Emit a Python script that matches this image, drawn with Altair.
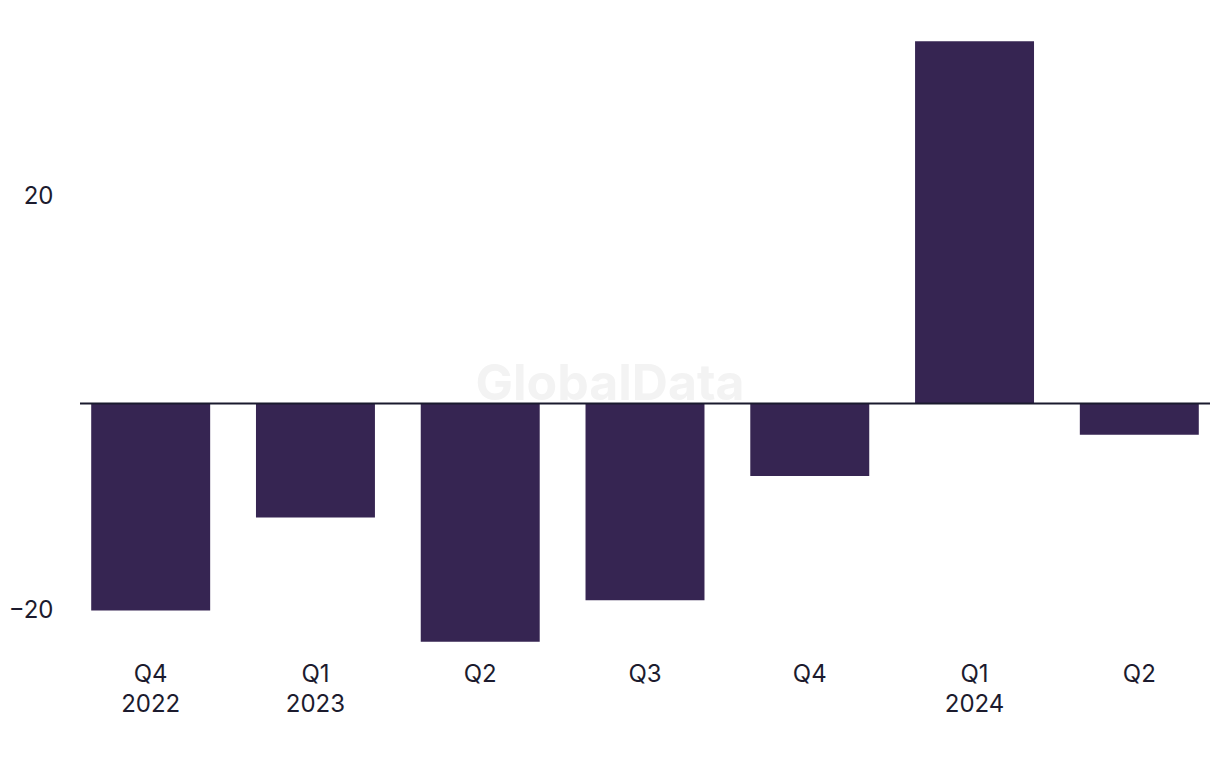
import altair as alt
import pandas as pd

keys = ["Q4 2022", "Q1 2023", "Q2 2023", "Q3 2023", "Q4 2023", "Q1 2024", "Q2 2024"]
quarters = ["Q4", "Q1", "Q2", "Q3", "Q4", "Q1", "Q2"]
years = ["2022", "2023", "", "", "", "2024", ""]
values = [-20.0, -11.0, -23.0, -19.0, -7.0, 35.0, -3.0]
y_ticks = [-20, 20]

df = pd.DataFrame({"key": keys, "value": values})

# build label expression from lists
expr = "''"
for k, q, yv in reversed(list(zip(keys, quarters, years))):
    lab = f"['{q}','{yv}']" if yv else f"'{q}'"
    expr = f"datum.value === '{k}' ? {lab} : ({expr})"

FONT = "Inter"
TEXT = "#1c1b2e"

x_enc = alt.X(
    "key:N", sort=keys, title=None,
    scale=alt.Scale(paddingInner=0.278, paddingOuter=0.068),
    axis=alt.Axis(labelExpr=expr, labelAngle=0, ticks=False, domain=False,
                  labelPadding=10, labelBaseline="top", labelLineHeight=30,
                  labelFontSize=24, labelFont=FONT, labelColor=TEXT, grid=False),
)
y_scale = alt.Scale(domain=[-24, 36], nice=False, zero=False)

bars = alt.Chart(df).mark_bar(color="#362552").encode(
    x=x_enc,
    y=alt.Y("value:Q", scale=y_scale, title=None,
            axis=alt.Axis(values=y_ticks, ticks=False, domain=False, grid=False,
                          labelPadding=27, labelFontSize=24, labelFont=FONT,
                          labelColor=TEXT, format="d")),
)

watermark = alt.Chart(pd.DataFrame({"t": ["GlobalData"]})).mark_text(
    font=FONT, fontSize=50, fontWeight="bold", color="#f3f3f3", baseline="middle", align="center"
).encode(x=alt.value(530), y=alt.value(354), text="t:N")

zero = alt.Chart(pd.DataFrame({"z": [0]})).mark_rule(color="#1a1a2e", strokeWidth=2).encode(
    y=alt.Y("z:Q", scale=y_scale)
)

chart = alt.layer(watermark, bars, zero).properties(
    width=1130, height=621,
    background="white",
    autosize=alt.AutoSizeParams(type="none"),
    padding={"left": 72, "top": 23, "right": 0, "bottom": 100},
).configure_view(strokeWidth=0, stroke=None)

chart.save("out.html", embed_options={"renderer": "svg", "actions": False})
